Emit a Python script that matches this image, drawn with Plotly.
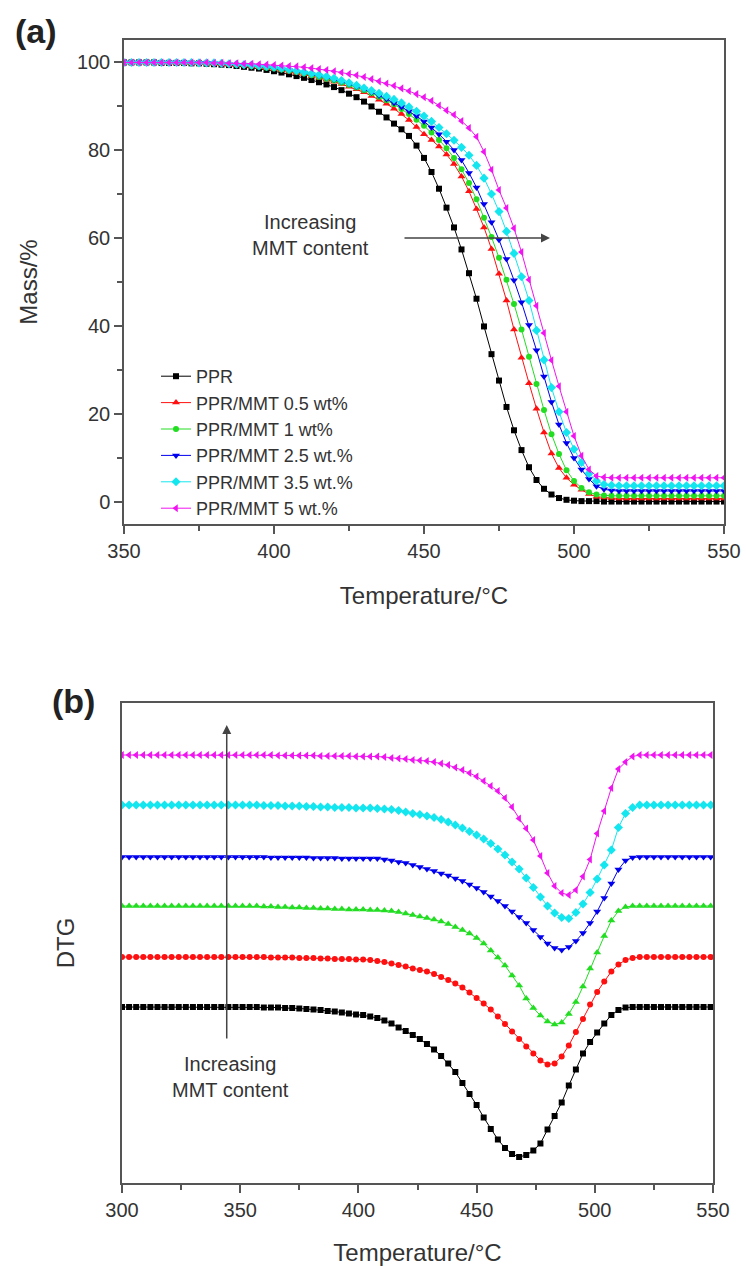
import plotly.graph_objects as go

# ---------------- Panel (a): TGA mass curves ----------------
T_a = [350, 352.5, 355, 357.5, 360, 362.5, 365, 367.5, 370, 372.5,
       375, 377.5, 380, 382.5, 385, 387.5, 390, 392.5, 395, 397.5,
       400, 402.5, 405, 407.5, 410, 412.5, 415, 417.5, 420, 422.5,
       425, 427.5, 430, 432.5, 435, 437.5, 440, 442.5, 445, 447.5,
       450, 452.5, 455, 457.5, 460, 462.5, 465, 467.5, 470, 472.5,
       475, 477.5, 480, 482.5, 485, 487.5, 490, 492.5, 495, 497.5,
       500, 502.5, 505, 507.5, 510, 512.5, 515, 517.5, 520, 522.5,
       525, 527.5, 530, 532.5, 535, 537.5, 540, 542.5, 545, 547.5,
       550]

mass_ppr = [99.9, 99.9, 99.9, 99.9, 99.9, 99.8, 99.8, 99.8, 99.8, 99.7,
            99.7, 99.6, 99.5, 99.4, 99.3, 99.1, 98.9, 98.7, 98.5, 98.2,
            97.9, 97.6, 97.2, 96.8, 96.4, 95.9, 95.4, 94.9, 94.3, 93.6,
            92.8, 92.0, 91.0, 89.9, 88.7, 87.4, 86.0, 84.7, 83.2, 81.0,
            78.2, 75.0, 71.2, 66.9, 62.4, 57.4, 52.0, 46.2, 39.9, 33.6,
            27.6, 21.6, 16.3, 11.8, 7.9, 5.0, 3.0, 1.7, 0.9, 0.5,
            0.3, 0.2, 0.2, 0.2, 0.1, 0.1, 0.1, 0.1, 0.1, 0.1,
            0.1, 0.1, 0.1, 0.1, 0.1, 0.1, 0.1, 0.1, 0.1, 0.1,
            0.1]

mass_05 = [99.9, 99.9, 99.9, 99.9, 99.9, 99.9, 99.9, 99.8, 99.8, 99.8,
           99.7, 99.7, 99.6, 99.5, 99.4, 99.3, 99.2, 99.0, 98.8, 98.6,
           98.4, 98.1, 97.8, 97.5, 97.2, 96.8, 96.4, 96.0, 95.5, 95.0,
           94.4, 93.8, 93.1, 92.3, 91.4, 90.5, 89.4, 88.2, 86.8, 85.2,
           83.6, 82.3, 80.8, 79.0, 76.8, 74.0, 70.6, 66.6, 62.4, 57.5,
           51.9, 45.8, 39.2, 32.8, 27.0, 21.2, 15.8, 11.0, 7.7, 5.5,
           3.9, 2.8, 1.8, 1.2, 1.0, 0.9, 0.8, 0.8, 0.8, 0.8,
           0.8, 0.8, 0.8, 0.8, 0.8, 0.8, 0.8, 0.8, 0.8, 0.8,
           0.8]

mass_1 = [99.9, 99.9, 99.9, 99.9, 99.9, 99.9, 99.9, 99.9, 99.8, 99.8,
          99.8, 99.7, 99.7, 99.6, 99.5, 99.4, 99.3, 99.1, 98.9, 98.7,
          98.5, 98.3, 98.0, 97.7, 97.4, 97.0, 96.6, 96.2, 95.8, 95.3,
          94.8, 94.2, 93.6, 92.9, 92.1, 91.3, 90.4, 89.3, 88.2, 86.9,
          85.5, 84.0, 82.3, 80.4, 78.2, 75.6, 72.5, 68.8, 64.6, 60.2,
          55.5, 50.5, 45.0, 39.2, 33.0, 26.8, 20.9, 15.4, 10.9, 7.2,
          4.8, 3.2, 2.2, 1.7, 1.5, 1.4, 1.4, 1.4, 1.4, 1.4,
          1.4, 1.4, 1.4, 1.4, 1.4, 1.4, 1.4, 1.4, 1.4, 1.4,
          1.4]

mass_25 = [99.9, 99.9, 99.9, 99.9, 99.9, 99.9, 99.9, 99.9, 99.9, 99.8,
           99.8, 99.8, 99.7, 99.6, 99.5, 99.4, 99.3, 99.2, 99.0, 98.8,
           98.6, 98.4, 98.1, 97.8, 97.5, 97.2, 96.8, 96.4, 96.0, 95.5,
           95.0, 94.4, 93.8, 93.1, 92.4, 91.6, 90.7, 89.8, 88.8, 87.7,
           86.5, 85.1, 83.6, 81.9, 80.0, 77.7, 74.8, 71.5, 67.7, 63.6,
           59.6, 55.2, 50.4, 45.4, 40.2, 34.5, 28.5, 22.7, 17.6, 13.4,
           10.0, 7.4, 5.2, 3.6, 2.9, 2.6, 2.5, 2.5, 2.5, 2.5,
           2.5, 2.5, 2.5, 2.5, 2.5, 2.5, 2.5, 2.5, 2.5, 2.5,
           2.5]

mass_35 = [99.9, 99.9, 99.9, 99.9, 99.9, 99.9, 99.9, 99.9, 99.9, 99.9,
           99.8, 99.8, 99.8, 99.7, 99.6, 99.5, 99.4, 99.3, 99.1, 99.0,
           98.8, 98.6, 98.3, 98.0, 97.7, 97.4, 97.1, 96.7, 96.3, 95.8,
           95.3, 94.7, 94.1, 93.5, 92.9, 92.2, 91.5, 90.7, 89.8, 88.8,
           87.7, 86.5, 85.1, 83.7, 82.2, 80.6, 78.8, 76.5, 73.6, 70.0,
           66.0, 61.5, 56.5, 51.2, 45.8, 39.0, 32.3, 26.0, 20.5, 15.8,
           12.0, 9.0, 6.5, 4.8, 4.0, 3.8, 3.7, 3.7, 3.7, 3.7,
           3.7, 3.7, 3.7, 3.7, 3.7, 3.7, 3.7, 3.7, 3.7, 3.7,
           3.7]

mass_5 = [99.9, 99.9, 99.9, 99.9, 99.9, 99.9, 99.9, 99.9, 99.9, 99.9,
          99.9, 99.9, 99.8, 99.8, 99.7, 99.7, 99.6, 99.6, 99.5, 99.4,
          99.3, 99.2, 99.1, 99.0, 98.8, 98.6, 98.4, 98.2, 97.9, 97.6,
          97.3, 97.0, 96.6, 96.1, 95.6, 95.1, 94.6, 94.0, 93.4, 92.7,
          92.0, 91.2, 90.1, 89.0, 88.0, 86.6, 85.0, 83.0, 79.6, 75.5,
          70.9, 66.8, 62.2, 56.8, 50.5, 44.6, 38.4, 32.2, 26.3, 20.5,
          15.0, 10.5, 7.4, 5.9, 5.6, 5.5, 5.5, 5.5, 5.5, 5.5,
          5.5, 5.5, 5.5, 5.5, 5.5, 5.5, 5.5, 5.5, 5.5, 5.5,
          5.5]

# ---------------- Panel (b): DTG curves ----------------
T_b = [300, 303, 306, 309, 312, 315, 318, 321, 324, 327,
       330, 333, 336, 339, 342, 345, 348, 351, 354, 357,
       360, 363, 366, 369, 372, 375, 378, 381, 384, 387,
       390, 393, 396, 399, 402, 405, 408, 411, 414, 417,
       420, 423, 426, 429, 432, 435, 438, 441, 444, 447,
       450, 453, 456, 459, 462, 465, 468, 471, 474, 477,
       480, 483, 486, 489, 492, 495, 498, 501, 504, 507,
       510, 513, 516, 519, 522, 525, 528, 531, 534, 537,
       540, 543, 546, 549]

dtg_ppr = [0, 0, 0, 0, 0, 0, 0, 0, 0, 0,
           0, 0, 0, 0, 0, 0, 0, 0, 0, 0,
           -0.01, -0.01, -0.01, -0.02, -0.02, -0.03, -0.04, -0.05, -0.06, -0.08,
           -0.09, -0.11, -0.13, -0.15, -0.16, -0.19, -0.22, -0.27, -0.33, -0.41,
           -0.48, -0.56, -0.64, -0.74, -0.85, -0.98, -1.13, -1.30, -1.52, -1.74,
           -1.96, -2.21, -2.44, -2.65, -2.82, -2.94, -3.00, -2.96, -2.87, -2.73,
           -2.45, -2.18, -1.91, -1.57, -1.25, -0.93, -0.70, -0.51, -0.33, -0.16,
           -0.06, -0.01, 0, 0, 0, 0, 0, 0, 0, 0,
           0, 0, 0, 0]

dtg_05 = [0, 0, 0, 0, 0, 0, 0, 0, 0, 0,
          0, 0, 0, 0, 0, 0, 0, 0, 0, 0,
          0, -0.01, -0.01, -0.01, -0.01, -0.02, -0.02, -0.02, -0.03, -0.03,
          -0.04, -0.04, -0.04, -0.05, -0.05, -0.06, -0.08, -0.10, -0.13, -0.16,
          -0.19, -0.23, -0.26, -0.29, -0.34, -0.40, -0.46, -0.53, -0.61, -0.71,
          -0.82, -0.93, -1.05, -1.19, -1.34, -1.49, -1.64, -1.79, -1.93, -2.07,
          -2.15, -2.13, -1.99, -1.77, -1.50, -1.24, -0.95, -0.70, -0.49, -0.29,
          -0.15, -0.06, -0.02, 0, 0, 0, 0, 0, 0, 0,
          0, 0, 0, 0]

dtg_1 = [0, 0, 0, 0, 0, 0, 0, 0, 0, 0,
         0, 0, 0, 0, 0, 0, 0, 0, 0, 0,
         -0.01, -0.01, -0.02, -0.02, -0.03, -0.03, -0.04, -0.04, -0.05, -0.05,
         -0.06, -0.06, -0.07, -0.07, -0.07, -0.08, -0.08, -0.09, -0.10, -0.12,
         -0.15, -0.18, -0.21, -0.24, -0.27, -0.31, -0.36, -0.42, -0.48, -0.55,
         -0.64, -0.75, -0.89, -1.03, -1.19, -1.39, -1.59, -1.85, -2.04, -2.19,
         -2.31, -2.37, -2.33, -2.16, -1.92, -1.61, -1.25, -0.93, -0.60, -0.29,
         -0.10, -0.02, 0, 0, 0, 0, 0, 0, 0, 0,
         0, 0, 0, 0]

dtg_25 = [0, 0, 0, 0, 0, 0, 0, 0, 0, 0,
          0, 0, 0, 0, 0, 0, 0, 0, 0, 0,
          0, -0.01, -0.01, -0.01, -0.01, -0.01, -0.01, -0.02, -0.02, -0.02,
          -0.02, -0.03, -0.03, -0.03, -0.03, -0.03, -0.03, -0.05, -0.07, -0.10,
          -0.12, -0.16, -0.20, -0.24, -0.28, -0.33, -0.37, -0.43, -0.48, -0.55,
          -0.62, -0.70, -0.79, -0.88, -0.98, -1.09, -1.20, -1.32, -1.46, -1.60,
          -1.73, -1.82, -1.86, -1.80, -1.68, -1.52, -1.32, -1.09, -0.82, -0.53,
          -0.25, -0.07, -0.01, 0, 0, 0, 0, 0, 0, 0,
          0, 0, 0, 0]

dtg_35 = [0, 0, 0, 0, 0, 0, 0, 0, 0, 0,
          0, 0, 0, 0, 0, 0, 0, 0, 0, 0,
          -0.01, -0.01, -0.01, -0.02, -0.02, -0.02, -0.03, -0.03, -0.04, -0.04,
          -0.05, -0.05, -0.05, -0.06, -0.06, -0.06, -0.07, -0.08, -0.09, -0.11,
          -0.14, -0.17, -0.19, -0.22, -0.25, -0.29, -0.34, -0.40, -0.46, -0.53,
          -0.60, -0.68, -0.77, -0.88, -1.00, -1.14, -1.28, -1.46, -1.65, -1.84,
          -2.02, -2.16, -2.25, -2.27, -2.15, -1.98, -1.75, -1.48, -1.20, -0.90,
          -0.45, -0.17, -0.05, 0, 0, 0, 0, 0, 0, 0,
          0, 0, 0, 0]

dtg_5 = [0, 0, 0, 0, 0, 0, 0, 0, 0, 0,
         0, 0, 0, 0, 0, 0, 0, 0, 0, 0,
         0, 0, -0.01, -0.01, -0.01, -0.01, -0.01, -0.01, -0.02, -0.02,
         -0.02, -0.02, -0.02, -0.03, -0.03, -0.03, -0.03, -0.04, -0.06, -0.07,
         -0.08, -0.10, -0.11, -0.12, -0.14, -0.17, -0.20, -0.25, -0.30, -0.36,
         -0.43, -0.52, -0.62, -0.72, -0.86, -1.04, -1.27, -1.47, -1.70, -2.02,
         -2.36, -2.62, -2.76, -2.80, -2.70, -2.43, -2.09, -1.57, -1.12, -0.66,
         -0.28, -0.14, -0.03, 0, 0, 0, 0, 0, 0, 0,
         0, 0, 0, 0]

# vertical stacking offsets of the DTG curves (arbitrary units)
dtg_offsets = [0.0, 1.0, 2.02, 3.0, 4.04, 5.04]

series_names = ["PPR", "PPR/MMT 0.5 wt%", "PPR/MMT 1 wt%", "PPR/MMT 2.5 wt.%",
                "PPR/MMT 3.5 wt.%", "PPR/MMT 5 wt.%"]
colors = ["#000000", "#ff1010", "#22dd22", "#0000ee", "#14e6f0", "#f014f0"]
symbols_a = ["square", "triangle-up", "circle", "triangle-down", "diamond", "triangle-left"]
symbols_b = ["square", "circle", "triangle-up", "triangle-down", "diamond", "triangle-left"]
sizes_a = [6, 7, 6, 7, 7, 7]
sizes_b = [6, 6, 7, 7, 7, 7]

mass_series = [mass_ppr, mass_05, mass_1, mass_25, mass_35, mass_5]
dtg_series = [dtg_ppr, dtg_05, dtg_1, dtg_25, dtg_35, dtg_5]

W, H = 746, 1266
FONT = "Liberation Sans, Arial, sans-serif"
AX = "#555555"
TXT = "#333333"

fig = go.Figure()

for name, ys, c, s, sz in zip(series_names, mass_series, colors, symbols_a, sizes_a):
    fig.add_trace(go.Scatter(
        x=T_a, y=ys, name=name, mode="lines+markers",
        line=dict(color=c, width=1),
        marker=dict(color=c, symbol=s, size=sz, line=dict(width=0)),
        xaxis="x", yaxis="y", showlegend=True))

for name, ys, off, c, s, sz in zip(series_names, dtg_series, dtg_offsets, colors, symbols_b, sizes_b):
    fig.add_trace(go.Scatter(
        x=T_b, y=[v + off for v in ys], name=name, mode="lines+markers",
        line=dict(color=c, width=1),
        marker=dict(color=c, symbol=s, size=sz, line=dict(width=0)),
        xaxis="x2", yaxis="y2", showlegend=False))

common_axis = dict(
    showline=True, linecolor=AX, linewidth=1.5, mirror=True,
    ticks="outside", ticklen=8, tickwidth=1.5, tickcolor=AX,
    showgrid=False, zeroline=False, automargin=False,
    tickfont=dict(family=FONT, size=20, color=TXT),
)

fig.update_layout(
    width=W, height=H,
    margin=dict(l=0, r=0, t=0, b=0, autoexpand=False),
    paper_bgcolor="white", plot_bgcolor="white",
    font=dict(family=FONT, size=20, color=TXT),
    xaxis=dict(domain=[124 / W, 724 / W], anchor="y", range=[350, 550],
               tick0=350, dtick=50,
               minor=dict(dtick=25, ticks="outside", ticklen=5, tickwidth=1.5, tickcolor=AX),
               title=dict(text="Temperature/°C", font=dict(family=FONT, size=24, color=TXT), standoff=26),
               **common_axis),
    yaxis=dict(domain=[1 - 524 / H, 1 - 40 / H], anchor="x", range=[-5, 105],
               tick0=0, dtick=20,
               minor=dict(dtick=10, ticks="outside", ticklen=5, tickwidth=1.5, tickcolor=AX),
               title=dict(text="Mass/%", font=dict(family=FONT, size=24, color=TXT), standoff=32),
               **common_axis),
    xaxis2=dict(domain=[122 / W, 713 / W], anchor="y2", range=[300, 550],
                tick0=300, dtick=50,
                minor=dict(dtick=25, ticks="outside", ticklen=5, tickwidth=1.5, tickcolor=AX),
                title=dict(text="Temperature/°C", font=dict(family=FONT, size=24, color=TXT), standoff=25),
                **common_axis),
    yaxis2=dict(domain=[1 - 1183 / H, 1 - 703 / H], anchor="x2", range=[-3.52, 6.08],
                showline=True, linecolor=AX, linewidth=1.5, mirror=True, automargin=False,
                ticks="", showticklabels=False, showgrid=False, zeroline=False,
                title=dict(text="DTG", font=dict(family=FONT, size=24, color=TXT), standoff=39)),
    legend=dict(x=156 / W, y=1 - 358 / H, xanchor="left", yanchor="top",
                bgcolor="rgba(0,0,0,0)", font=dict(family=FONT, size=18, color=TXT),
                tracegroupgap=0),
)

annotations = [
    dict(x=36 / W, y=1 - 31 / H, xref="paper", yref="paper", text="<b>(a)</b>",
         showarrow=False, font=dict(family=FONT, size=34, color="#222"),
         xanchor="center", yanchor="middle"),
    dict(x=73 / W, y=1 - 701 / H, xref="paper", yref="paper", text="<b>(b)</b>",
         showarrow=False, font=dict(family=FONT, size=34, color="#222"),
         xanchor="center", yanchor="middle"),
    dict(x=492, y=60, ax=443, ay=60, xref="x", yref="y", axref="x", ayref="y",
         text="", showarrow=True, arrowhead=2, arrowsize=1.2, arrowwidth=1.5,
         arrowcolor="#444"),
    dict(x=412, y=60.7, xref="x", yref="y", text="Increasing<br>MMT content",
         showarrow=False, font=dict(family=FONT, size=20, color=TXT)),
    dict(x=344.3, y=5.64, ax=344.3, ay=-0.66, xref="x2", yref="y2", axref="x2", ayref="y2",
         text="", showarrow=True, arrowhead=2, arrowsize=1.2, arrowwidth=1.5,
         arrowcolor="#444"),
    dict(x=345.7, y=-1.4, xref="x2", yref="y2", text="Increasing<br>MMT content",
         showarrow=False, font=dict(family=FONT, size=20, color=TXT)),
]
fig.update_layout(annotations=annotations)

fig.write_html("out.html")
